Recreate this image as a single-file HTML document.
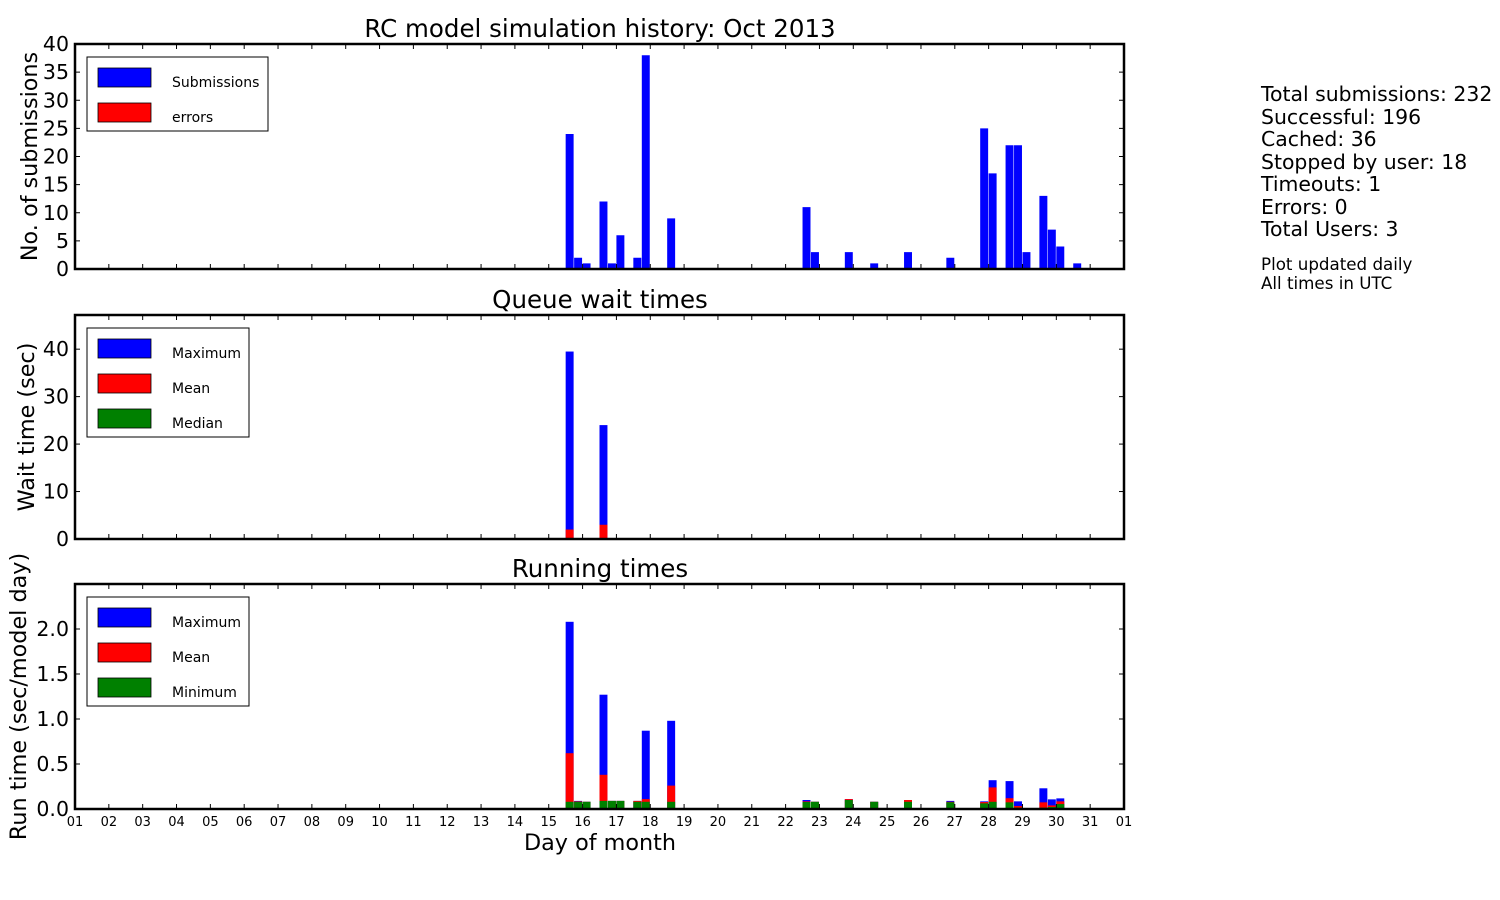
<!DOCTYPE html>
<html><head><meta charset="utf-8">
<style>
html,body{margin:0;padding:0;background:#fff;}
svg{display:block;font-family:"DejaVu Sans","Liberation Sans",sans-serif;}
</style></head>
<body>
<svg id="chart" width="1500" height="900" viewBox="0 0 1500 900" xmlns="http://www.w3.org/2000/svg">
<g id="stats" font-size="20.4" fill="#000">
<text x="1261" y="101">Total submissions: 232</text>
<text x="1261" y="124">Successful: 196</text>
<text x="1261" y="146">Cached: 36</text>
<text x="1261" y="169">Stopped by user: 18</text>
<text x="1261" y="191">Timeouts: 1</text>
<text x="1261" y="214">Errors: 0</text>
<text x="1261" y="236">Total Users: 3</text>
<text x="1261" y="270" font-size="16.7">Plot updated daily</text>
<text x="1261" y="289" font-size="16.7">All times in UTC</text>
</g>
</svg>
<script>
// ---- data ----
const subDays = [15.5,15.75,16,16.5,16.75,17,17.5,17.75,18.5,22.5,22.75,23.75,24.5,25.5,26.75,27.75,28,28.5,28.75,29,29.5,29.75,30,30.5];
const subCounts = [24,2,1,12,1,6,2,38,9,11,3,3,1,3,2,25,17,22,22,3,13,7,4,1];
const errCounts = [0,0,0,0,0,0,0,0,0,0,0,0,0,0,0,0,0,0,0,0,0,0,0,0];
const waitDays = [15.5,16.5];
const waitMax = [39.5,24];
const waitMean = [2,3];
const waitMedian = [0,0];
const runDays = [15.5,15.75,16,16.5,16.75,17,17.5,17.75,18.5,22.5,22.75,23.75,24.5,25.5,26.75,27.75,28,28.5,28.75,29.5,29.75,30];
const runMax = [2.08,0.09,0.08,1.27,0.09,0.09,0.09,0.87,0.98,0.10,0.08,0.11,0.08,0.10,0.09,0.085,0.32,0.31,0.085,0.23,0.107,0.118];
const runMean = [0.62,0.085,0.08,0.38,0.09,0.09,0.09,0.11,0.26,0.085,0.08,0.11,0.08,0.10,0.08,0.077,0.24,0.12,0.033,0.074,0.04,0.085];
const runMin = [0.08,0.08,0.08,0.09,0.09,0.09,0.08,0.08,0.08,0.078,0.08,0.10,0.08,0.08,0.075,0.063,0.08,0.074,0.015,0.015,0.022,0.055];
const xTickLabels = ["01","02","03","04","05","06","07","08","09","10","11","12","13","14","15","16","17","18","19","20","21","22","23","24","25","26","27","28","29","30","31","01"];

const NS="http://www.w3.org/2000/svg";
const svg=document.getElementById('chart');
const X0=75,X1=1124,D0=1,D1=32;
const xs=d=>X0+(d-D0)/(D1-D0)*(X1-X0);
const BW=0.235;
function mk(tag,attrs,parent){const e=document.createElementNS(NS,tag);for(const k in attrs)e.setAttribute(k,attrs[k]);(parent||svg).appendChild(e);return e;}

function panel(name,top,bot,ymax,yticks,yfmt,title,ylabel,series,legend){
  const g=mk('g',{});
  
  
  const ys=v=>bot-v/ymax*(bot-top);
  series.forEach(s=>{
    s.days.forEach((d,i)=>{
      const v=s.vals[i]; if(v<=0) return;
      const r=mk('rect',{x:xs(d),y:ys(v),width:xs(d+BW)-xs(d),height:bot-ys(v),fill:s.color},g);
      
      
    });
  });
  for(let i=0;i<xTickLabels.length;i++){
    const x=xs(D0+i);
    mk('line',{x1:x,x2:x,y1:bot,y2:bot-5,stroke:'#000','stroke-width':1},g);
    mk('line',{x1:x,x2:x,y1:top,y2:top+5,stroke:'#000','stroke-width':1},g);
  }
  yticks.forEach(v=>{
    const y=ys(v);
    mk('line',{x1:X0,x2:X0+5,y1:y,y2:y,stroke:'#000','stroke-width':1},g);
    mk('line',{x1:X1,x2:X1-5,y1:y,y2:y,stroke:'#000','stroke-width':1},g);
    const t=mk('text',{x:X0-6,y:y+7,'text-anchor':'end','font-size':20.5},g);
    t.textContent=yfmt(v);
    
    
  });
  const fr=mk('rect',{x:X0,y:top,width:X1-X0,height:bot-top,fill:'none',stroke:'#000','stroke-width':2.5},g);
  
  
  const tt=mk('text',{x:600,y:top-7,'text-anchor':'middle','font-size':24.5},g);
  tt.textContent=title;
  
  
  const cy=(top+bot)/2;
  const yl=mk('text',{x:0,y:0,'text-anchor':'middle','font-size':22.3,transform:`translate(${ylabel[1]},${cy}) rotate(-90)`},g);
  yl.textContent=ylabel[0];
  
  
  const lg=mk('g',{},g);
  
  
  mk('rect',{x:87,y:top+13,width:legend.w,height:legend.items.length*35+4,fill:'#fff',stroke:'#000','stroke-width':1},lg);
  legend.items.forEach((it,i)=>{
    const yy=top+24+i*35;
    mk('rect',{x:98,y:yy,width:53,height:19,fill:it[1],stroke:'#000','stroke-width':0.8},lg);
    const lt=mk('text',{x:172,y:yy+19,'font-size':14},lg);
    lt.textContent=it[0];
    
    
  });
  return g;
}

const t1=mk('text',{x:600,y:37,'text-anchor':'middle','font-size':24.5});
t1.textContent='RC model simulation history: Oct 2013';



panel('submissions-panel',44,269,40,[0,5,10,15,20,25,30,35,40],v=>String(v),'', ['No. of submissions',37],
  [{key:'submissions',days:subDays,vals:subCounts,color:'#0000ff'},{key:'errors',days:subDays,vals:errCounts,color:'#ff0000'}],
  {w:181,items:[['Submissions','#0000ff'],['errors','#ff0000']]});
panel('queue-wait-panel',315,539,47.2,[0,10,20,30,40],v=>String(v),'Queue wait times',['Wait time (sec)',34],
  [{key:'wait-max',days:waitDays,vals:waitMax,color:'#0000ff'},{key:'wait-mean',days:waitDays,vals:waitMean,color:'#ff0000'},{key:'wait-median',days:waitDays,vals:waitMedian,color:'#008000'}],
  {w:162,items:[['Maximum','#0000ff'],['Mean','#ff0000'],['Median','#008000']]});
panel('running-times-panel',584,809,2.5,[0,0.5,1,1.5,2],v=>v.toFixed(1),'Running times',['Run time (sec/model day)',26],
  [{key:'run-max',days:runDays,vals:runMax,color:'#0000ff'},{key:'run-mean',days:runDays,vals:runMean,color:'#ff0000'},{key:'run-min',days:runDays,vals:runMin,color:'#008000'}],
  {w:162,items:[['Maximum','#0000ff'],['Mean','#ff0000'],['Minimum','#008000']]});

xTickLabels.forEach((l,i)=>{
  const t=mk('text',{x:xs(D0+i),y:826,'text-anchor':'middle','font-size':13});
  t.textContent=l;
  
  
});
const xl=mk('text',{x:600,y:850,'text-anchor':'middle','font-size':22.3});
xl.textContent='Day of month';


</script>
</body></html>
